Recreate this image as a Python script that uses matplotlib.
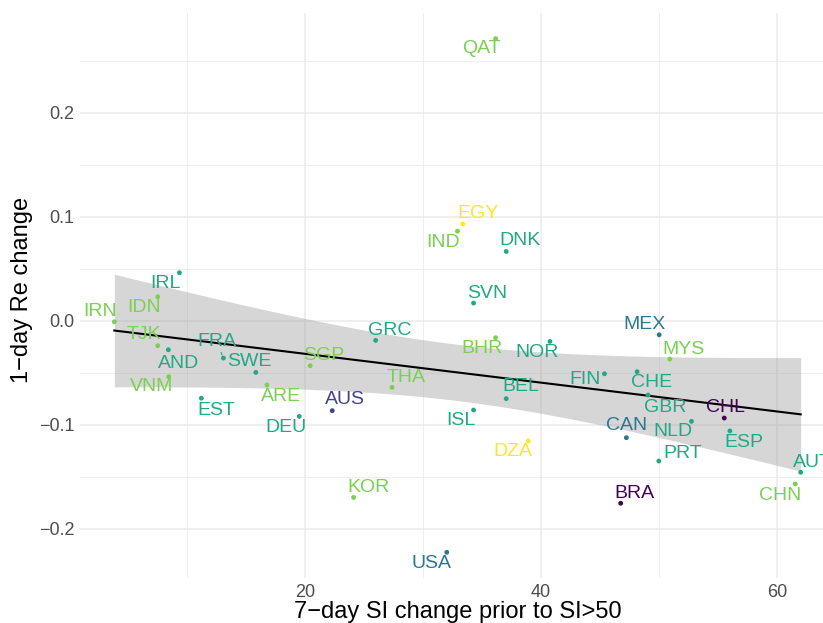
import numpy as np
import matplotlib
matplotlib.use("Agg")
import matplotlib.pyplot as plt

plt.rcParams["font.family"] = ["Liberation Sans", "DejaVu Sans"]

# Country codes, stringency change before SI>50, 1-day change in Re, continent
countries = ["IRN", "IDN", "IRL", "TJK", "AND", "FRA", "SWE", "VNM", "ARE", "EST",
             "DEU", "AUS", "KOR", "SGP", "GRC", "THA", "SVN", "IND", "EGY", "QAT",
             "DNK", "BHR", "NOR", "BEL", "ISL", "DZA", "USA", "MEX", "MYS", "FIN",
             "CHE", "GBR", "CHL", "NLD", "ESP", "CAN", "PRT", "AUT", "CHN", "BRA"]
si_change = [3.81, 7.49, 9.33, 7.49, 8.39, 13.06, 15.81, 8.42, 16.75, 11.19,
             19.49, 22.29, 24.10, 20.42, 25.97, 27.36, 34.27, 32.91, 33.36, 36.14,
             37.04, 36.14, 40.75, 37.04, 34.27, 38.91, 32.00, 50.01, 50.91, 45.37,
             48.14, 49.07, 55.53, 52.75, 56.01, 47.23, 49.98, 62.01, 61.55, 46.75]
re_change = [-0.0010, 0.0231, 0.0462, -0.0240, -0.0279, -0.0359, -0.0497, -0.0538, -0.0618, -0.0745,
             -0.0920, -0.0865, -0.1700, -0.0433, -0.0189, -0.0641, 0.0170, 0.0862, 0.0930, 0.2714,
             0.0667, -0.0163, -0.0199, -0.0750, -0.0859, -0.1157, -0.2228, -0.0135, -0.0369, -0.0510,
             -0.0490, -0.0715, -0.0936, -0.0968, -0.1060, -0.1125, -0.1350, -0.1458, -0.1570, -0.1756]
continent = ["Asia", "Asia", "Europe", "Asia", "Europe", "Europe", "Europe", "Asia", "Asia", "Europe",
             "Europe", "Oceania", "Asia", "Asia", "Europe", "Asia", "Europe", "Asia", "Africa", "Asia",
             "Europe", "Asia", "Europe", "Europe", "Europe", "Africa", "North America", "North America", "Asia", "Europe",
             "Europe", "Europe", "South America", "Europe", "Europe", "North America", "Europe", "Europe", "Asia", "South America"]

continent_colors = {
    "South America": "#440154",
    "Oceania": "#414487",
    "North America": "#2A788E",
    "Europe": "#22A884",
    "Asia": "#7AD151",
    "Africa": "#FDE725",
}

# Label offsets from each point, in pixels (dx right, dy up)
label_offsets = {
    "IRN": (-14, 10), "IDN": (-14, -11), "IRL": (-14, -11), "TJK": (-14, 11),
    "AND": (10, -14), "FRA": (-7, 17), "SWE": (-7, 11), "VNM": (-17, -10),
    "ARE": (14, -12), "EST": (15, -12), "DEU": (-13, -11), "AUS": (13, 11),
    "KOR": (15, 10), "SGP": (14, 10), "GRC": (14, 10), "THA": (14, 10),
    "SVN": (14, 10), "IND": (-14, -11), "EGY": (15, 11), "QAT": (-14, -10),
    "DNK": (14, 11), "BHR": (-14, -11), "NOR": (-13, -11), "BEL": (15, 12),
    "ISL": (-13, -10), "DZA": (-15, -10), "USA": (-15, -11), "MEX": (-15, 10),
    "MYS": (14, 10), "FIN": (-19, -6), "CHE": (14, -11), "GBR": (17, -12),
    "CHL": (1, 11), "NLD": (-19, -10), "ESP": (14, -12), "CAN": (0, 12),
    "PRT": (24, 8), "AUT": (12, 10), "CHN": (-15, -12), "BRA": (14, 10),
}

x = np.asarray(si_change)
y = np.asarray(re_change)
colors = [continent_colors[c] for c in continent]

W, H = 823, 623
fig = plt.figure(figsize=(W / 100, H / 100), dpi=100)
# panel runs slightly past the right edge of the canvas
ax = fig.add_axes([80 / W, (H - 578) / H, 755 / W, 565 / H])

xr = x.max() - x.min()
yr = y.max() - y.min()
ax.set_xlim(x.min() - 0.05 * xr, x.max() + 0.05 * xr)
ax.set_ylim(y.min() - 0.05 * yr, y.max() + 0.05 * yr)

# grid in the style of a minimal theme
ax.set_xticks([20, 40, 60])
ax.set_xticks([10, 30, 50], minor=True)
ax.set_yticks([-0.2, -0.1, 0.0, 0.1, 0.2])
ax.set_yticks([-0.15, -0.05, 0.05, 0.15, 0.25], minor=True)
ax.set_yticklabels(["\u22120.2", "\u22120.1", "0.0", "0.1", "0.2"])
ax.grid(which="major", color="#ebebeb", linewidth=1.1)
ax.grid(which="minor", color="#ebebeb", linewidth=0.6)
ax.set_axisbelow(True)
for s in ax.spines.values():
    s.set_visible(False)
ax.tick_params(which="both", length=0)
ax.tick_params(axis="both", labelsize=13, labelcolor="#4d4d4d", pad=4)

# linear fit with 95% confidence band
n = len(x)
slope, intercept = np.polyfit(x, y, 1)
resid = y - (slope * x + intercept)
s_err = np.sqrt(np.sum(resid ** 2) / (n - 2))
t_crit = 2.024  # Student t, 0.975 quantile, 38 degrees of freedom
xs = np.linspace(x.min(), x.max(), 200)
ys = slope * xs + intercept
se = s_err * np.sqrt(1 / n + (xs - x.mean()) ** 2 / np.sum((x - x.mean()) ** 2))
ax.fill_between(xs, ys - t_crit * se, ys + t_crit * se, color="#999999", alpha=0.4,
                linewidth=0, zorder=2)
ax.plot(xs, ys, color="black", linewidth=1.5, zorder=3)

ax.scatter(x, y, s=12, c=colors, linewidths=0, zorder=4)

for code, xi, yi, col in zip(countries, x, y, colors):
    dx, dy = label_offsets[code]
    kw = {}
    if code == "FRA":
        kw["arrowprops"] = dict(arrowstyle="-", color=col, lw=0.8, shrinkA=0, shrinkB=2.5)
    ax.annotate(code, (xi, yi), xytext=(dx, dy), textcoords="offset pixels",
                ha="center", va="center", fontsize=14, color=col,
                annotation_clip=False, zorder=5, **kw)

ax.set_xlabel("7\u2212day SI change prior to SI>50", fontsize=17, color="black")
ax.set_ylabel("1\u2212day Re change", fontsize=17, color="black")
ax.xaxis.set_label_coords(0.5, -0.041)
ax.yaxis.set_label_coords(-0.062, 0.51)

fig.savefig("out.png", dpi=100, facecolor="white")
